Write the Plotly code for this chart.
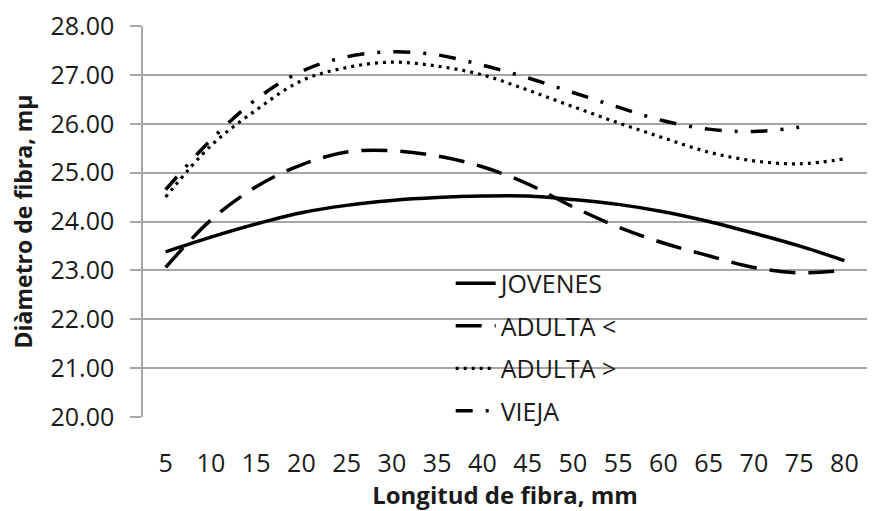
import plotly.graph_objects as go

longitud = ["5", "10", "15", "20", "25", "30", "35", "40", "45", "50", "55", "60", "65", "70", "75", "80"]
jovenes = [23.38, 23.68, 23.95, 24.18, 24.33, 24.43, 24.49, 24.52, 24.52, 24.45, 24.35, 24.20, 24.00, 23.76, 23.50, 23.20]
adulta_menor = [23.06, 24.03, 24.71, 25.16, 25.42, 25.45, 25.34, 25.12, 24.77, 24.30, 23.89, 23.56, 23.30, 23.06, 22.95, 23.00]
adulta_mayor = [24.50, 25.55, 26.28, 26.88, 27.15, 27.26, 27.18, 27.00, 26.69, 26.35, 26.02, 25.71, 25.42, 25.24, 25.18, 25.28]
vieja_x = ["5", "10", "15", "20", "25", "30", "35", "40", "45", "50", "55", "60", "65", "70", "75"]
vieja = [24.65, 25.67, 26.50, 27.07, 27.37, 27.47, 27.41, 27.20, 26.94, 26.64, 26.34, 26.06, 25.89, 25.84, 25.93]
y_ticks = [20, 21, 22, 23, 24, 25, 26, 27, 28]

FONT = "Open Sans"
TXT = "#1a1a1a"
GRID = "#a6a6a6"

fig = go.Figure()
series = [
    ("JOVENES", longitud, jovenes, dict(width=3.5, dash="solid")),
    ("ADULTA <", longitud, adulta_menor, dict(width=3.5, dash="26px,13px")),
    ("ADULTA >", longitud, adulta_mayor, dict(width=3.2, dash="3px,5px")),
    ("VIEJA", vieja_x, vieja, dict(width=3.5, dash="17px,13px,3px,13px")),
]
for name, xs, ys, ln in series:
    fig.add_trace(go.Scatter(
        x=xs, y=ys, name=name, mode="lines", legendgroup=name,
        line=dict(color="black", shape="spline", smoothing=1.0, **ln),
    ))

fig.update_layout(
    width=873, height=511,
    margin=dict(l=143, r=6, t=26, b=94),
    paper_bgcolor="white", plot_bgcolor="white",
    font=dict(family=FONT, size=25, color=TXT),
    showlegend=True,
    legend=dict(
        x=0.425, y=0.4, xanchor="left", yanchor="top",
        bgcolor="rgba(0,0,0,0)", font=dict(size=25, color=TXT),
        tracegroupgap=7, itemwidth=40,
    ),
)
fig.update_xaxes(
    type="category", categoryorder="array", categoryarray=longitud,
    range=[-0.5, 15.5], showgrid=False, zeroline=False,
    showline=False, ticks="", ticklabelstandoff=29,
    tickfont=dict(size=25, color=TXT),
    title=dict(text="<b>Longitud de fibra, mm</b>", font=dict(size=24, color=TXT), standoff=7),
)
fig.update_yaxes(
    range=[20, 28], tickvals=y_ticks, tickformat=".2f",
    showgrid=True, gridcolor=GRID, gridwidth=1.5,
    showline=True, linecolor=GRID, linewidth=1.5,
    ticks="outside", ticklen=11, tickcolor=GRID, tickwidth=1.5,
    zeroline=False, tickfont=dict(size=25, color=TXT), ticklabelstandoff=11,
    title=dict(text="<b>Diàmetro de fibra, mµ</b>", font=dict(size=23, color=TXT), standoff=11),
)

fig.write_html("out.html", config={"displayModeBar": False},
               post_script="document.body.style.margin='0';")
